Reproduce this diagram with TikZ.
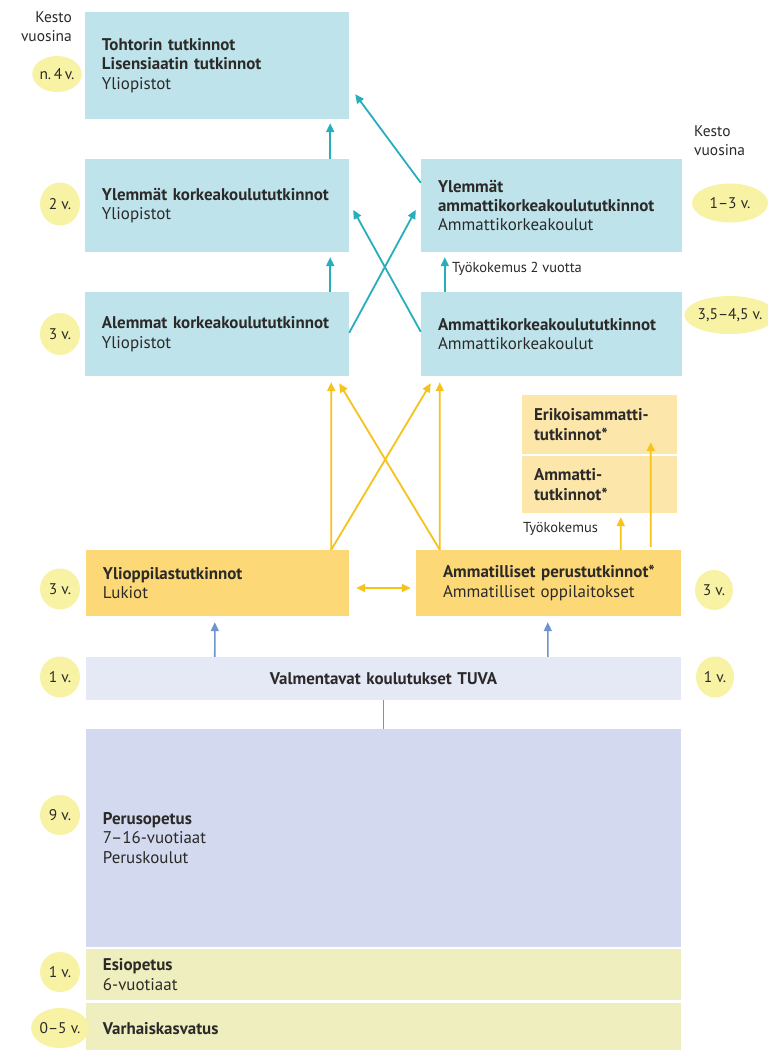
\documentclass[tikz,border=0pt]{standalone}
\usepackage{fontspec}
\setmainfont{PT Sans}
\usetikzlibrary{arrows.meta,calc,shapes.geometric}
\definecolor{boxblue}{HTML}{BEE3EA}
\definecolor{teal}{HTML}{27AEBC}
\definecolor{yelbox}{HTML}{FCD877}
\definecolor{yellight}{HTML}{FDE6AA}
\definecolor{yelarrow}{HTML}{F6C21C}
\definecolor{ellfill}{HTML}{F8F2A5}
\definecolor{tuvafill}{HTML}{E5E9F6}
\definecolor{perufill}{HTML}{D3D9EF}
\definecolor{esiofill}{HTML}{EEEEBF}
\definecolor{bluearrow}{HTML}{6F93CC}
\definecolor{txt}{HTML}{2B2A29}
\tikzset{
  base/.style={rectangle, inner xsep=17bp, inner ysep=0pt, align=left, text=txt,
    font=\fontsize{17}{19.5}\selectfont},
  dur/.style={ellipse, fill=ellfill, inner sep=0pt, text=txt,
    font=\fontsize{15.5}{18}\selectfont},
  small/.style={text=txt, inner sep=0pt, font=\fontsize{14.5}{16}\selectfont},
  tarrow/.style={draw=teal, line width=1.8bp, -{Triangle[length=9bp,width=8bp]}},
  yarrow/.style={draw=yelarrow, line width=1.8bp, -{Triangle[length=9bp,width=8bp]}},
  yarrows/.style={draw=yelarrow, line width=1.8bp, {Triangle[length=9bp,width=8bp]}-{Triangle[length=9bp,width=8bp]}},
  barrow/.style={draw=bluearrow, line width=1.6bp, -{Triangle[length=9bp,width=8bp]}},
  bline/.style={draw=bluearrow, line width=1.6bp},
}
\begin{document}
\begin{tikzpicture}[x=1bp,y=-1bp]
\useasboundingbox[fill=white] (0,0) rectangle (768,1050);

% boxes
\node[base, fill=boxblue, text width=230bp, minimum height=107bp] (toht) at (217,65.5)
  {\textbf{Tohtorin tutkinnot}\\\textbf{Lisensiaatin tutkinnot}\\Yliopistot};
\node[base, fill=boxblue, text width=230bp, minimum height=93bp] (ylkk) at (217,205.5)
  {\textbf{Ylemmät korkeakoulututkinnot}\\Yliopistot};
\node[base, fill=boxblue, text width=230bp, minimum height=84bp] (alkk) at (217,334)
  {\textbf{Alemmat korkeakoulututkinnot}\\Yliopistot};
\node[base, fill=boxblue, text width=227bp, minimum height=93bp] (yamk) at (551.5,205.5)
  {\textbf{Ylemmät}\\\textbf{ammattikorkeakoulututkinnot}\\Ammattikorkeakoulut};
\node[base, fill=boxblue, text width=227bp, minimum height=84bp] (amk) at (551.5,334)
  {\textbf{Ammattikorkeakoulututkinnot}\\Ammattikorkeakoulut};
\node[base, inner xsep=12bp, fill=yellight, text width=131bp, minimum height=59bp] (erik) at (599.5,424.5)
  {\textbf{Erikoisammatti-}\\\textbf{tutkinnot*}};
\node[base, inner xsep=12bp, fill=yellight, text width=131bp, minimum height=57bp] (amti) at (599.5,484.5)
  {\textbf{Ammatti-}\\\textbf{tutkinnot*}};
\node[base, fill=yelbox, text width=229bp, minimum height=66bp] (ylio) at (217.5,583)
  {\textbf{Ylioppilastutkinnot}\\Lukiot};
\node[base, inner xsep=27bp, fill=yelbox, text width=211bp, minimum height=66bp] (ampt) at (548.5,583)
  {\mbox{\textbf{Ammatilliset perustutkinnot*}}\\\mbox{Ammatilliset oppilaitokset}};
\node[base, align=center, fill=tuvafill, text width=561bp, minimum height=43bp] (tuva) at (383.5,678.5)
  {\textbf{Valmentavat koulutukset TUVA}};
\node[base, fill=perufill, text width=561bp, minimum height=218bp] (peru) at (383.5,838)
  {\textbf{Perusopetus}\\7–16-vuotiaat\\Peruskoulut};
\node[base, fill=esiofill, text width=561bp, minimum height=51bp] (esio) at (383.5,974.5)
  {\textbf{Esiopetus}\\6-vuotiaat};
\node[base, fill=esiofill, text width=561bp, minimum height=52bp] (varh) at (383.5,1029)
  {\textbf{Varhaiskasvatus}};

% duration labels
\node[text=txt, inner sep=0pt, align=right, anchor=east, font=\fontsize{15.5}{19}\selectfont] (kl) at (72,27) {Kesto\\vuosina};
\node[text=txt, inner sep=0pt, align=left, anchor=west, font=\fontsize{15.5}{19}\selectfont] (kr) at (694,141) {Kesto\\vuosina};

\node[dur, minimum width=46bp, minimum height=36bp] (d1) at (57,74) {n.\,4\,v.};
\node[dur, minimum width=40bp, minimum height=43bp] (d2) at (60,204) {2 v.};
\node[dur, minimum width=40bp, minimum height=42bp] (d3) at (60,334) {3 v.};
\node[dur, minimum width=76bp, minimum height=39bp] (d4) at (730,203) {1–3 v.};
\node[dur, minimum width=78bp, minimum height=38bp] (d5) at (730,315) {3,5–4,5 v.};
\node[dur, minimum width=40bp, minimum height=41bp] (d6) at (60,589) {3 v.};
\node[dur, minimum width=38bp, minimum height=40bp] (d7) at (714,590) {3 v.};
\node[dur, minimum width=40bp, minimum height=41bp] (d8) at (60,677) {1 v.};
\node[dur, minimum width=38bp, minimum height=41bp] (d9) at (715,677) {1 v.};
\node[dur, minimum width=40bp, minimum height=40bp] (d10) at (60,815) {9 v.};
\node[dur, minimum width=40bp, minimum height=40bp] (d11) at (60,972) {1 v.};
\node[dur, minimum width=40bp, minimum height=40bp] (d12) at (60,1028) {0–5 v.};

% small labels
\node[small, anchor=base west] (tk2) at (452,272) {Työkokemus 2 vuotta};
\node[small, anchor=base west] (tk1) at (523,532) {Työkokemus};

% teal arrows
\draw[tarrow] ($(ylkk.north east)+(-19,0)$) -- ($(toht.south east)+(-19,4)$);
\draw[tarrow] ($(alkk.north east)+(-19,0)$) -- ($(ylkk.south east)+(-19,5)$);
\draw[tarrow] ($(yamk.north west)+(0,24)$) -- ($(toht.south east)+(6,-25)$);
\draw[tarrow] ($(amk.north west)+(0,40)$) -- ($(ylkk.north east)+(4,51)$);
\draw[tarrow] ($(alkk.north east)+(0,41)$) -- ($(yamk.north west)+(-5,51)$);
\draw[tarrow] ($(amk.north west)+(24,0)$) -- ($(yamk.south west)+(24,5)$);

% yellow arrows
\draw[yarrow] ($(ylio.north east)+(-18,0)$) -- ($(alkk.south east)+(-18,6)$);
\draw[yarrow] ($(ylio.north east)+(-18,0)$) -- ($(amk.south west)+(10,7)$);
\draw[yarrow] ($(ampt.north west)+(24,0)$) -- ($(alkk.south east)+(-10,7)$);
\draw[yarrow] ($(ampt.north west)+(24,0)$) -- ($(amk.south west)+(19,6)$);
\draw[yarrow] ($(ampt.north west)+(205,0)$) -- ($(amti.south west)+(99,4)$);
\draw[yarrow] ($(ampt.north west)+(235,-3)$) -- ($(erik.south west)+(129,-12)$);
\draw[yarrows] ($(ylio.east)+(7,5)$) -- ($(ampt.west)+(-5,5)$);

% blue arrows
\draw[barrow] ($(tuva.north west)+(129,0)$) -- ($(ylio.south west)+(129,6)$);
\draw[barrow] ($(tuva.north west)+(462,0)$) -- ($(ampt.south west)+(132,6)$);
\draw[bline] (tuva.south) -- (peru.north);
\end{tikzpicture}
\end{document}
